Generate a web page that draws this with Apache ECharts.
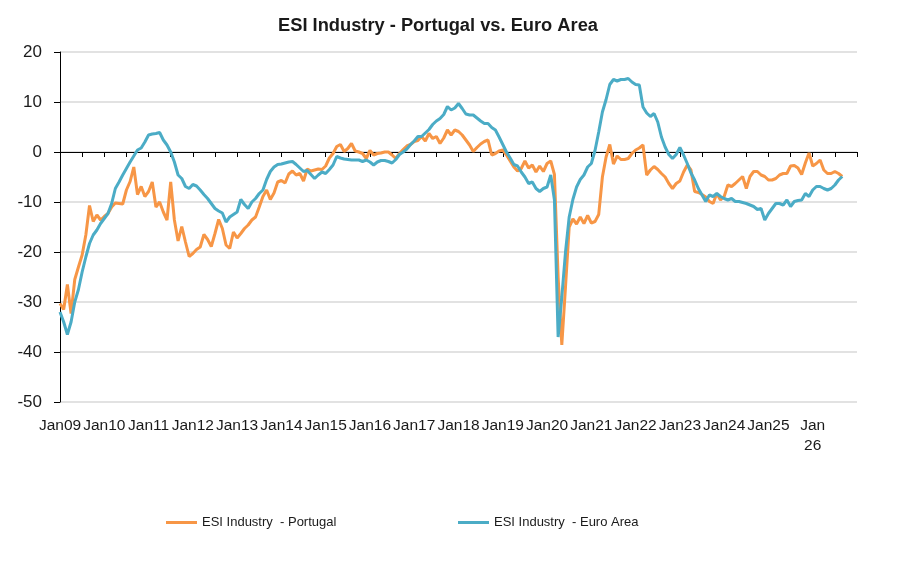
<!DOCTYPE html>
<html>
<head>
<meta charset="utf-8">
<script src="https://cdn.jsdelivr.net/npm/echarts@6/dist/echarts.min.js"></script>
<style>
  html, body { margin: 0; padding: 0; background: #fff; }
  #Chart { width: 914px; height: 573px; }
</style>
</head>
<body>
<div id="Chart"></div>
<script>
// tick labels, one per January
const yearLabels = ["Jan09", "Jan10", "Jan11", "Jan12", "Jan13", "Jan14", "Jan15", "Jan16", "Jan17",
  "Jan18", "Jan19", "Jan20", "Jan21", "Jan22", "Jan23", "Jan24", "Jan25", "Jan\n26"]

// monthly values from Jan09, one row per year
const portugal = [
  -30.3, -31.5, -26.5, -32.3, -25.5, -23, -20.6, -16.6, -10.7, -13.9, -12.6, -13.6,
  -12.9, -12.3, -11, -10.2, -10.3, -10.4, -7.6, -5.9, -3, -8.5, -6.9, -8.9,
  -7.9, -6, -11, -10, -12, -13.6, -6, -13.6, -17.8, -14.9, -18, -20.9,
  -20.3, -19.5, -19, -16.5, -17.5, -18.9, -16.3, -13.5, -15.3, -18.6, -19.3, -16,
  -17.2, -16.3, -15.3, -14.6, -13.6, -13, -11, -8.9, -7.6, -9.5, -8.2, -6,
  -5.7, -6.2, -4.4, -3.8, -4.6, -4.3, -5.8, -3.4, -3.8, -3.6, -3.4, -3.5,
  -2.8, -1.2, -0.3, 1.1, 1.5, 0.1, 0.7, 1.7, 0.2, 0, -0.3, -1.3,
  0.3, -0.6, -0.3, -0.2, 0, 0, -0.6, -1.3, -0.3, 0.5, 1.2, 1.5,
  2.1, 2.3, 3.1, 2.2, 3.7, 2.7, 3.1, 1.7, 2.8, 4.4, 3.4, 4.4,
  4.1, 3.4, 2.4, 1.4, 0.1, 0.9, 1.6, 2.1, 2.4, -0.6, -0.3, 0.2,
  0.4, -0.6, -1.8, -3, -3.8, -3.3, -1.8, -3.2, -2.6, -4, -2.8, -3.9,
  -2.3, -1.8, -4.5, -25, -38.6, -27, -15, -13.4, -14.4, -13, -14.3, -12.7,
  -14.2, -13.9, -12.5, -5, -1, 1.5, -2.4, -0.8, -1.5, -1.5, -1.3, -0.3,
  0.4, 0.8, 1.4, -4.6, -3.6, -2.9, -3.5, -4.3, -5, -6.3, -7.3, -6.3,
  -5.8, -4, -2.6, -3.6, -7.9, -8.1, -8.5, -9, -9.9, -10.3, -8.3, -9.6,
  -8.9, -6.6, -6.9, -6.3, -5.6, -4.9, -7.3, -4.9, -3.9, -3.9, -4.6, -4.9,
  -5.6, -5.6, -5.3, -4.6, -4.3, -4.3, -2.8, -2.7, -3.2, -4.5, -2.2, -0.2,
  -2.8, -2.3, -1.6, -3.6, -4.3, -4.3, -3.9, -4.3, -4.9
]
const euroArea = [
  -32, -34, -36.5, -34, -30, -27.5, -24, -21, -18.3, -16.6, -15.6, -14.3,
  -13.3, -12.3, -10.3, -7.3, -6, -4.6, -3.3, -2, -0.8, 0.4, 0.8, 2,
  3.4, 3.6, 3.7, 3.9, 2.4, 1.4, 0, -2, -4.6, -5.3, -6.9, -7.3,
  -6.5, -6.8, -7.6, -8.5, -9.3, -10.3, -11.3, -11.8, -12.2, -14, -13, -12.5,
  -12, -9.5, -10.5, -11.3, -10, -9.3, -8.3, -7.6, -5.5, -3.9, -3, -2.5,
  -2.4, -2.2, -2, -1.9, -2.5, -3.2, -3.9, -3.7, -4.5, -5.3, -4.6, -4,
  -4.3, -3.5, -2.6, -0.9, -1.2, -1.4, -1.5, -1.6, -1.6, -1.6, -1.9, -1.6,
  -2, -2.6, -2, -1.7, -1.7, -1.9, -2.2, -1.5, -0.5, 0, 0.6, 1.5,
  2.2, 3.1, 3.1, 3.8, 4.5, 5.5, 6.2, 6.7, 7.5, 9.1, 8.4, 8.8,
  9.7, 8.7, 7.6, 7.4, 7.4, 6.8, 6.2, 5.7, 5.7, 4.9, 4.4, 3,
  1.5, 0, -1.2, -2.5, -2.8, -4, -5, -6.3, -6, -7.3, -7.9, -7.3,
  -7, -4.6, -9.6, -37, -29, -20, -13, -9.5, -7, -5.5, -4.6, -3,
  -2.3, 0.3, 4, 8, 10.5, 13.5, 14.5, 14.2, 14.5, 14.5, 14.7, 14,
  13.5, 13.4, 9, 7.8, 7.1, 7.7, 6, 3, 1, -0.5, -1.3, -0.5,
  0.9, -0.6, -2.3, -4.2, -5.6, -7.3, -8.6, -9.9, -8.6, -8.9, -8.3, -8.9,
  -9.3, -9.6, -9.3, -9.9, -9.9, -10.1, -10.3, -10.6, -10.9, -11.5, -11.3, -13.6,
  -12.3, -11.3, -10.3, -10.3, -10.6, -9.6, -10.9, -9.9, -9.7, -9.6, -8.3, -8.9,
  -7.6, -6.9, -6.9, -7.3, -7.6, -7.3, -6.6, -5.6, -4.9
]

// axis runs Jan09..Jan27, one slot per month
const months = []
for (let i = 0; i <= yearLabels.length * 12; i++) months.push(String(i))

const sans = "'Liberation Sans', Arial, sans-serif"
const nameP = "ESI Industry  - Portugal"
const nameE = "ESI Industry  - Euro Area"

const chart = echarts.init(document.getElementById("Chart"), null, { renderer: "canvas" })
chart.setOption({
  animation: false,
  title: {
    text: "ESI Industry - Portugal vs. Euro Area",
    left: 433,
    textAlign: "center",
    top: 12,
    textStyle: { fontFamily: sans, fontSize: 18.3, fontWeight: "bold", color: "#1a1a1a" }
  },
  legend: [
    {
      data: [nameP], left: 161, top: 511, icon: "rect", itemWidth: 31, itemHeight: 3,
      textStyle: { fontFamily: sans, fontSize: 13, color: "#1a1a1a" }
    },
    {
      data: [nameE], left: 453, top: 511, icon: "rect", itemWidth: 31, itemHeight: 3,
      textStyle: { fontFamily: sans, fontSize: 13, color: "#1a1a1a" }
    }
  ],
  grid: { left: 60, right: 57, top: 52, bottom: 171 },
  xAxis: [
    {
      type: "category",
      data: months,
      boundaryGap: false,
      axisLine: { onZero: true, lineStyle: { color: "#000", width: 1 } },
      axisTick: { interval: (i) => i % 6 === 0, length: 5, lineStyle: { color: "#000" } },
      axisLabel: { show: false }
    },
    {
      type: "category",
      data: months,
      boundaryGap: false,
      position: "bottom",
      axisLine: { show: false, onZero: false },
      axisTick: { show: false },
      axisLabel: {
        interval: (i) => i % 12 === 0,
        formatter: (v, i) => yearLabels[i / 12] ?? "",
        margin: 14,
        fontFamily: sans,
        fontSize: 15.5,
        lineHeight: 20,
        color: "#1a1a1a"
      }
    }
  ],
  yAxis: {
    type: "value",
    min: -50,
    max: 20,
    interval: 10,
    axisLine: { show: true, lineStyle: { color: "#000" } },
    axisTick: { show: true, length: 6, lineStyle: { color: "#000" } },
    axisLabel: { margin: 18, fontFamily: sans, fontSize: 17, color: "#1a1a1a" },
    splitLine: { lineStyle: { color: "#d9d9d9", width: 1.5 } }
  },
  series: [
    {
      name: nameP,
      type: "line",
      xAxisIndex: 0,
      symbol: "none",
      lineStyle: { color: "#f79646", width: 3 },
      itemStyle: { color: "#f79646" },
      data: portugal
    },
    {
      name: nameE,
      type: "line",
      xAxisIndex: 0,
      symbol: "none",
      lineStyle: { color: "#4bacc6", width: 3 },
      itemStyle: { color: "#4bacc6" },
      data: euroArea
    }
  ]
})
</script>
</body>
</html>
